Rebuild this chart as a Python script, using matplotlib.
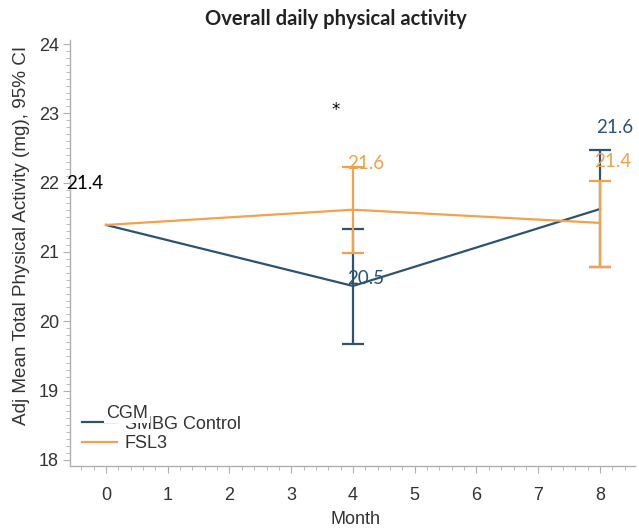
import matplotlib
matplotlib.use("Agg")
import matplotlib.pyplot as plt
from matplotlib.ticker import MultipleLocator

plt.rcParams["font.family"] = ["Liberation Sans", "DejaVu Sans"]

# Adjusted mean total physical activity by month, with 95% CI
months = [0, 4, 8]
cgm_mean = [21.39, 20.51, 21.62]
cgm_lo = [21.39, 19.67, 20.78]
cgm_hi = [21.39, 21.33, 22.47]
fsl3_mean = [21.39, 21.61, 21.42]
fsl3_lo = [21.39, 20.99, 20.78]
fsl3_hi = [21.39, 22.23, 22.02]

cgm_color = "#2b5473"
fsl3_color = "#f5a04a"
axis_gray = "#b0b0b0"
text_dark = "#333333"

fig = plt.figure(figsize=(6.39, 5.31), dpi=100)
ax = fig.add_axes([70 / 639, 1 - 466 / 531, (635 - 70) / 639, (466 - 40) / 531])


def draw_series(mean, lo, hi, color):
    ax.plot(months, mean, color=color, lw=1.6, zorder=3)
    keep = [i for i in range(len(months)) if hi[i] > lo[i]]
    xs = [months[i] for i in keep]
    ys = [mean[i] for i in keep]
    em = [mean[i] - lo[i] for i in keep]
    ep = [hi[i] - mean[i] for i in keep]
    ax.errorbar(xs, ys, yerr=[em, ep], fmt="none", ecolor=color,
                elinewidth=1.6, capsize=8, capthick=1.6, zorder=3)


draw_series(cgm_mean, cgm_lo, cgm_hi, cgm_color)
draw_series(fsl3_mean, fsl3_lo, fsl3_hi, fsl3_color)

ax.set_xlim(-0.583, 8.567)
ax.set_ylim(17.913, 24.058)
ax.xaxis.set_major_locator(MultipleLocator(1))
ax.xaxis.set_minor_locator(MultipleLocator(0.2))
ax.yaxis.set_major_locator(MultipleLocator(1))
ax.yaxis.set_minor_locator(MultipleLocator(0.1))

for side in ("top", "right"):
    ax.spines[side].set_visible(False)
for side in ("left", "bottom"):
    ax.spines[side].set_color(axis_gray)
    ax.spines[side].set_linewidth(1.0)

ax.tick_params(axis="both", which="major", length=5, color=axis_gray,
               labelsize=13, labelcolor=text_dark)
ax.tick_params(axis="x", which="major", pad=10)
ax.tick_params(axis="y", which="major", pad=3)
ax.tick_params(axis="both", which="minor", length=3, color=axis_gray)

fig.text(355 / 639, 1 - 519 / 531, "Month", fontsize=13, color=text_dark,
         ha="center", va="center")
fig.text(22 / 639, 1 - 235 / 531,
         "Adj Mean Total Physical Activity (mg), 95% CI",
         fontsize=13.6, color=text_dark, ha="center", va="center",
         rotation=90)

fig.text(336 / 639, 1 - 19 / 531, "Overall daily physical activity",
         ha="center", va="center", family="Lato", fontweight="bold",
         fontsize=14.5, color="#222222")

# Value labels
lab_font = dict(family="Lato", fontsize=13.5, ha="center", va="center")
ax.text(-0.34, cgm_mean[0] + 0.60, f"{cgm_mean[0]:.1f}", color="black",
        **lab_font)
ax.text(4.21, fsl3_mean[1] + 0.67, f"{fsl3_mean[1]:.1f}", color=fsl3_color,
        **lab_font)
ax.text(4.21, cgm_mean[1] + 0.11, f"{cgm_mean[1]:.1f}", color=cgm_color,
        **lab_font)
ax.text(8.23, cgm_mean[2] + 1.18, f"{cgm_mean[2]:.1f}", color=cgm_color,
        **lab_font)
ax.text(8.20, fsl3_mean[2] + 0.88, f"{fsl3_mean[2]:.1f}", color=fsl3_color,
        **lab_font)
ax.text(3.72, 23.05, "*", ha="center", va="center", fontsize=12,
        family="DejaVu Sans", color="black")

# Legend
h1, = ax.plot([], [], color=cgm_color, lw=1.6)
h2, = ax.plot([], [], color=fsl3_color, lw=1.6)
leg = fig.legend([h1, h2], ["SMBG Control", "FSL3"], loc="center left",
                 bbox_to_anchor=(69 / 639, 1 - 434 / 531), frameon=False,
                 handlelength=1.95, handletextpad=0.45, labelspacing=0.15,
                 borderpad=0.2, prop={"size": 13})
for t in leg.get_texts():
    t.set_color(text_dark)
fig.text(106 / 639, 1 - 413 / 531, "CGM", fontsize=13, color=text_dark,
         ha="left", va="center", zorder=10,
         bbox=dict(facecolor="white", edgecolor="none", pad=1.4))

fig.savefig("out.png", dpi=100)
